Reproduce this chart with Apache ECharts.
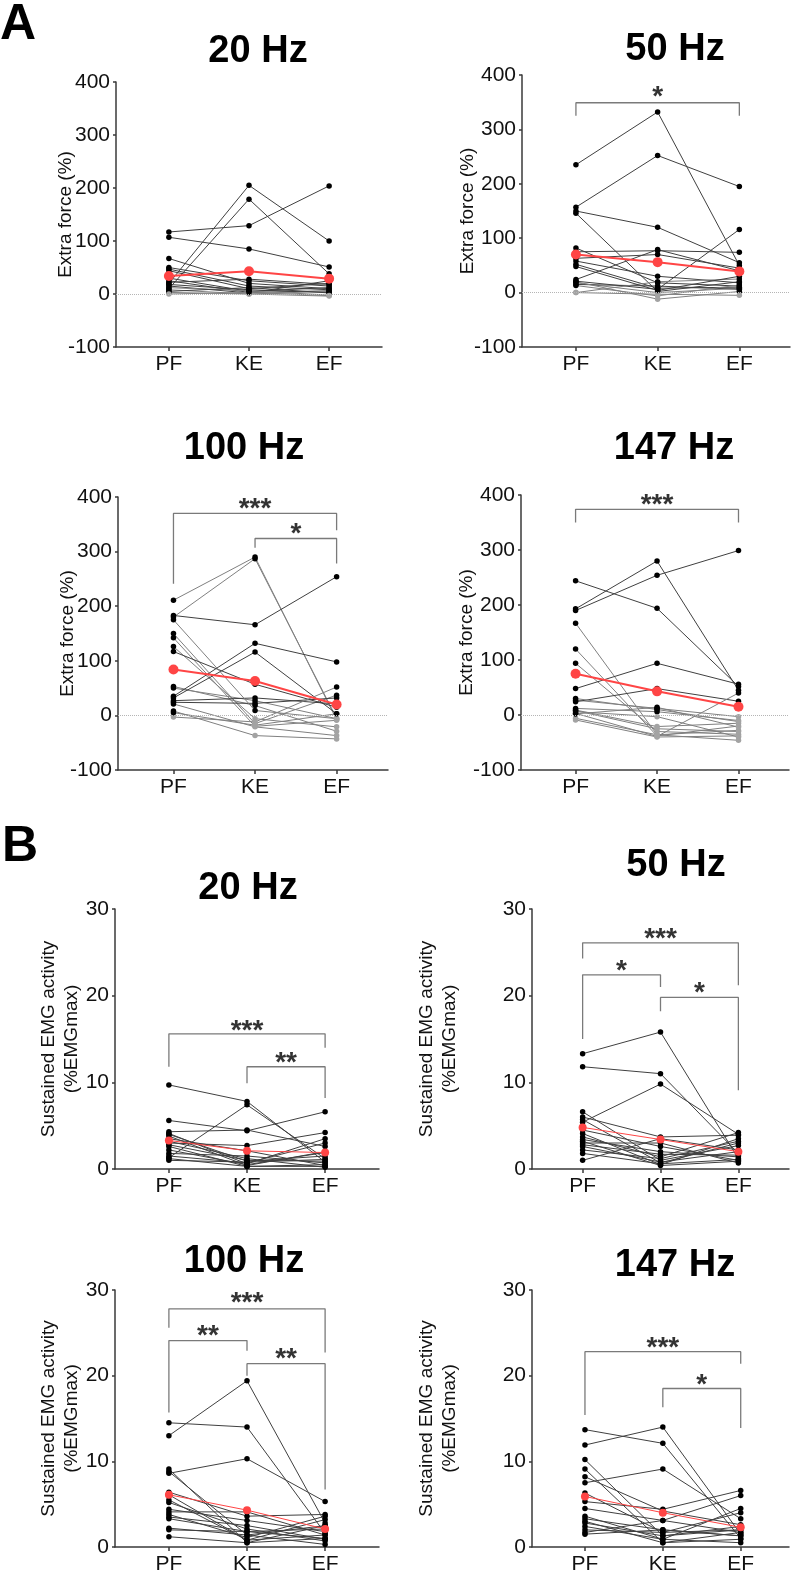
<!DOCTYPE html>
<html>
<head>
<meta charset="utf-8">
<script src="https://cdn.jsdelivr.net/npm/echarts@6/dist/echarts.min.js"></script>
<style>
  html, body { margin: 0; padding: 0; background: #fff; }
  #chart { width: 795px; height: 1575px; }
</style>
</head>
<body>
<div id="chart"></div>
<script>
// categories shared by every panel
var categories = ['PF', 'KE', 'EF'];
var yTicksA = [-100, 0, 100, 200, 300, 400];
var yTicksB = [0, 10, 20, 30];

// A: extra force (%), one row per subject: [PF, KE, EF]
var a20 = [
  [117, 129, 204], [107, 85, 51], [20, 205, 100], [10, 179, 38], [67, 20, 10],
  [50, 25, 15], [47, 15, 8], [44, 10, 20], [30, 5, 12], [25, 3, 6],
  [22, 28, 18], [18, 8, 3], [15, 2, 25], [12, 6, -2], [8, 0, 5],
  [5, 12, 2], [3, 0, -4], [0, 3, -3]
];
var a20Mean = [34, 43, 29];

var a50 = [
  [235, 332, 50], [157, 252, 195], [150, 120, 55], [146, 2, 20], [82, 18, 12],
  [75, 77, 74], [63, 70, 45], [58, 30, 18], [52, 8, 10], [24, 79, 40],
  [21, 6, 116], [18, 0, 8], [15, 12, 6], [13, -6, 14], [20, -12, 2],
  [0, -3, -5], [0, 20, 25], [48, 4, 30]
];
var a50Mean = [70, 56, 39];

var a100 = [
  [211, 290, -8], [180, 287, -5], [183, 166, 254], [150, -15, 37], [142, -20, -9],
  [126, -6, -21], [117, 57, 15], [53, 18, -29], [50, 27, -6], [35, 132, 98],
  [32, 116, 3], [27, 32, 21], [24, 22, 32], [21, -21, -37], [8, -37, -43],
  [-3, -12, 52], [175, 9, -6], [5, -18, 3]
];
var a100Mean = [84, 63, 20];

var a147 = [
  [244, 194, 52], [193, 280, 45], [190, 254, 299], [167, -36, -28], [120, -38, -20],
  [94, -30, -35], [48, 94, 56], [27, 12, -3], [24, 48, 25], [12, 6, -10],
  [9, -21, -15], [6, -3, -40], [3, -39, 40], [-6, -36, -46], [-9, -40, -38],
  [30, 10, -12], [8, -25, -30], [2, 14, -22]
];
var a147Mean = [75, 43, 15];

// B: sustained EMG activity (%EMGmax)
var b20 = [
  [9.7, 7.8, 0.8], [5.6, 4.4, 6.6], [1.3, 7.4, 1.2], [4.3, 4.5, 2.6], [4.1, 0.6, 3.5],
  [4.0, 0.9, 1.5], [3.0, 2.7, 4.2], [2.6, 0.3, 0.5], [2.2, 0.5, 1.9], [1.8, 1.5, 0.7],
  [1.5, 0.7, 3.0], [1.2, 0.3, 0.3], [1.0, 0.8, 1.1], [3.5, 2.1, 0.4], [2.8, 1.0, 0.9],
  [3.8, 0.4, 2.0], [3.2, 1.2, 0.2]
];
var b20Mean = [3.3, 2.1, 1.9];

var b50 = [
  [13.3, 15.8, 1.2], [11.8, 11.0, 1.8], [5.4, 9.8, 4.0], [6.6, 1.0, 2.7], [6.0, 3.7, 3.9],
  [5.7, 0.7, 3.0], [4.5, 2.6, 1.0], [4.1, 0.5, 3.5], [3.7, 1.4, 4.2], [3.4, 2.0, 1.4],
  [3.0, 3.0, 0.7], [2.6, 0.8, 2.0], [2.2, 1.2, 3.2], [1.8, 0.6, 1.1], [1.0, 3.5, 2.2],
  [3.2, 0.4, 0.9], [2.8, 1.7, 1.6]
];
var b50Mean = [4.8, 3.4, 2.0];

var b100 = [
  [14.5, 14.0, 1.6], [13.0, 19.4, 2.8], [8.6, 10.3, 5.3], [9.1, 0.5, 1.0], [8.8, 1.4, 2.5],
  [6.4, 3.6, 3.8], [5.5, 0.8, 3.2], [5.2, 2.1, 0.7], [4.4, 3.1, 1.8], [4.1, 4.1, 1.4],
  [3.8, 1.1, 3.6], [3.3, 1.8, 2.1], [2.2, 1.4, 0.3], [2.0, 1.8, 1.0], [1.2, 0.5, 2.5],
  [6.1, 0.8, 1.4], [3.5, 2.5, 0.9]
];
var b100Mean = [6.1, 4.3, 2.1];

var b147 = [
  [13.7, 12.1, 1.0], [11.9, 14.0, 1.5], [10.2, 1.3, 2.0], [9.1, 0.5, 1.7], [7.5, 9.1, 3.3],
  [8.2, 4.2, 2.6], [6.3, 1.7, 4.0], [5.3, 4.4, 6.6], [4.5, 3.1, 6.0], [3.6, 0.9, 4.5],
  [3.3, 2.0, 1.3], [2.8, 1.3, 2.4], [2.4, 0.9, 0.5], [2.0, 1.7, 2.0], [1.7, 3.1, 1.7],
  [1.5, 2.0, 1.3], [3.0, 0.5, 0.9]
];
var b147Mean = [5.9, 4.0, 2.3];

// significance brackets: [from, to, top, left end, right end, star level, stars]
var a20Sig = [];
var a50Sig = [[0, 2, 349, 325, 325, 370, '*']];
var a100Sig = [[0, 2, 370, 241, 339, 388, '***'], [1, 2, 324, 307, 278, 342, '*']];
var a147Sig = [[0, 2, 374, 350, 350, 392, '***']];
var b20Sig = [[0, 2, 15.6, 11.8, 14.0, 16.6, '***'], [1, 2, 11.8, 9.9, 8.2, 12.9, '**']];
var b50Sig = [[0, 2, 26.1, 24.3, 21.2, 27.2, '***'], [0, 1, 22.4, 15.0, 21.0, 23.5, '*'], [1, 2, 19.8, 18.2, 9.1, 21.0, '*']];
var b100Sig = [[0, 2, 27.8, 25.6, 22.7, 29.2, '***'], [0, 1, 24.1, 15.7, 22.9, 25.3, '**'], [1, 2, 21.4, 20.0, 6.7, 22.6, '**']];
var b147Sig = [[0, 2, 22.8, 15.4, 21.4, 23.9, '***'], [1, 2, 18.5, 16.3, 13.9, 19.6, '*']];

var panels = [
  { title: '20 Hz', tx: 258, ty: 52, rows: a20, mean: a20Mean, sig: a20Sig, part: 'A', gap: 39, box: [116, 82, 266, 265], xr: [-0.66, 2.66] },
  { title: '50 Hz', tx: 675, ty: 50, rows: a50, mean: a50Mean, sig: a50Sig, part: 'A', gap: 43, box: [522, 75, 268, 272], xr: [-0.66, 2.62] },
  { title: '100 Hz', tx: 244, ty: 449, rows: a100, mean: a100Mean, sig: a100Sig, part: 'A', gap: 39, box: [118, 497, 270, 273], xr: [-0.68, 2.63] },
  { title: '147 Hz', tx: 674, ty: 449, rows: a147, mean: a147Mean, sig: a147Sig, part: 'A', gap: 43, box: [521, 495, 268, 275], xr: [-0.67, 2.62] },
  { title: '20 Hz', tx: 248, ty: 889, rows: b20, mean: b20Mean, sig: b20Sig, part: 'B', gap: 32, box: [115, 909, 264, 260], xr: [-0.69, 2.69] },
  { title: '50 Hz', tx: 676, ty: 866, rows: b50, mean: b50Mean, sig: b50Sig, part: 'B', gap: 71, box: [532, 909, 257, 260], xr: [-0.65, 2.65] },
  { title: '100 Hz', tx: 244, ty: 1262, rows: b100, mean: b100Mean, sig: b100Sig, part: 'B', gap: 32, box: [115, 1290, 264, 261], xr: [-0.69, 2.69] },
  { title: '147 Hz', tx: 675, ty: 1266, rows: b147, mean: b147Mean, sig: b147Sig, part: 'B', gap: 71, box: [532, 1290, 257, 261], xr: [-0.68, 2.62] }
];

var font = 'Liberation Sans, Arial, Helvetica, sans-serif';
var axisColor = '#3a3a3a';

var grids = [], xAxes = [], yAxes = [], series = [];
var graphics = [
  { type: 'text', left: 0, top: 0, style: { text: 'A', font: 'bold 50px ' + font, fill: '#000' } },
  { type: 'text', left: 2, top: 822, style: { text: 'B', font: 'bold 50px ' + font, fill: '#000' } }
];

panels.forEach(function (p, i) {
  var isA = p.part === 'A';
  grids.push({ left: p.box[0], top: p.box[1], width: p.box[2], height: p.box[3] });

  xAxes.push({
    type: 'value', gridIndex: i, min: p.xr[0], max: p.xr[1],
    axisLine: { show: true, onZero: false, lineStyle: { color: axisColor, width: 1.5 } },
    axisTick: { show: true, length: 4, customValues: [0, 1, 2], lineStyle: { color: axisColor, width: 1.5 } },
    axisLabel: {
      customValues: [0, 1, 2], margin: 7, fontSize: 21, color: '#111', fontFamily: font,
      formatter: function (v) { return categories[Math.round(v)]; }
    },
    splitLine: { show: false }
  });

  yAxes.push({
    type: 'value', gridIndex: i,
    min: isA ? yTicksA[0] : yTicksB[0],
    max: isA ? yTicksA[yTicksA.length - 1] : yTicksB[yTicksB.length - 1],
    interval: isA ? 100 : 10,
    name: isA ? 'Extra force (%)' : 'Sustained EMG activity\n(%EMGmax)',
    nameLocation: 'middle', nameGap: p.gap, nameMoveOverlap: false,
    nameTextStyle: { fontSize: 19, color: '#111', fontFamily: font, lineHeight: 23 },
    axisLine: { show: true, onZero: false, lineStyle: { color: axisColor, width: 1.5 } },
    axisTick: { show: true, length: 3, lineStyle: { color: axisColor, width: 1.5 } },
    axisLabel: { margin: 6, fontSize: 21, color: '#111', fontFamily: font },
    splitLine: { show: false }
  });

  graphics.push({
    type: 'text', x: p.tx, y: p.ty,
    style: { text: p.title, font: 'bold 38px ' + font, fill: '#000', align: 'center', verticalAlign: 'middle' }
  });

  // dotted zero line for panel A
  if (isA) {
    series.push({
      type: 'line', xAxisIndex: i, yAxisIndex: i, data: [], silent: true,
      markLine: {
        silent: true, symbol: 'none', label: { show: false }, animation: false,
        lineStyle: { type: 'dotted', color: '#b5b5b5', width: 1 },
        data: [{ yAxis: 0 }]
      }
    });
  }

  p.rows.forEach(function (row) {
    var neg = row.some(function (v) { return v <= 0; });
    series.push({
      type: 'line', xAxisIndex: i, yAxisIndex: i, silent: true, animation: false,
      symbol: 'circle', symbolSize: 5.5, showSymbol: true, z: 3,
      lineStyle: { color: neg ? '#808080' : '#404040', width: 1 },
      data: row.map(function (v, k) {
        return { value: [k, v], itemStyle: { color: v <= 0 ? '#a3a3a3' : '#000' } };
      })
    });
  });

  // group mean
  series.push({
    type: 'line', xAxisIndex: i, yAxisIndex: i, silent: true, animation: false,
    symbol: 'circle', symbolSize: isA ? 10 : 8, z: 6,
    itemStyle: { color: '#ff4545' },
    lineStyle: { color: '#ff4545', width: isA ? 2 : 1 },
    data: p.mean.map(function (v, k) { return [k, v]; })
  });

  p.sig.forEach(function (s) {
    series.push({
      type: 'line', xAxisIndex: i, yAxisIndex: i, silent: true, animation: false,
      symbol: 'none', z: 2,
      lineStyle: { color: '#7a7a7a', width: 1.3 },
      data: [[s[0], s[3]], [s[0], s[2]], [s[1], s[2]], [s[1], s[4]]]
    });
    series.push({
      type: 'scatter', xAxisIndex: i, yAxisIndex: i, silent: true, animation: false,
      symbolSize: 1, itemStyle: { color: 'rgba(0,0,0,0)' },
      label: {
        show: true, position: 'inside', offset: [0, 6], formatter: s[6],
        fontSize: 28, fontWeight: 'bold', color: '#000', fontFamily: font
      },
      data: [[(s[0] + s[1]) / 2, s[5]]]
    });
  });
});

var chart = echarts.init(document.getElementById('chart'), null, { renderer: 'canvas' });
chart.setOption({
  backgroundColor: '#fff',
  animation: false,
  grid: grids,
  xAxis: xAxes,
  yAxis: yAxes,
  graphic: graphics,
  series: series
});
</script>
</body>
</html>
